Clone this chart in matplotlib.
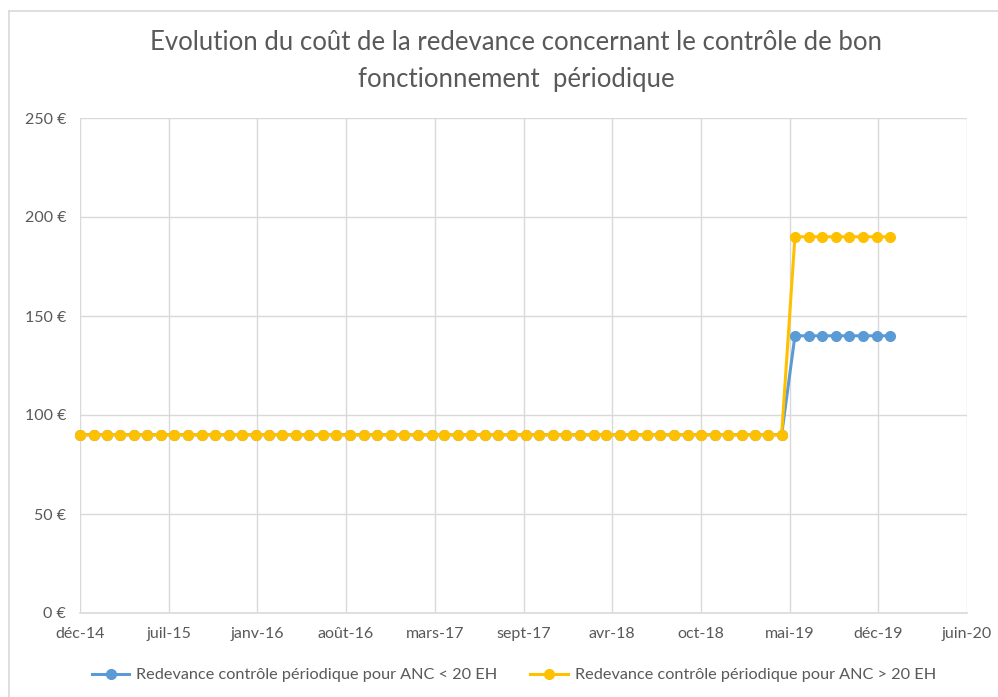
import matplotlib
matplotlib.use("Agg")
import matplotlib.pyplot as plt
import matplotlib.dates as mdates
import pandas as pd
import numpy as np
from matplotlib.lines import Line2D

# ---- data ----
months = pd.date_range("2014-12-01", "2019-12-01", freq="MS")
low_values = [90] * 53 + [140] * 8          # ANC < 20 EH
high_values = [90] * 53 + [190] * 8         # ANC > 20 EH
tick_labels = ["déc-14", "juil-15", "janv-16", "août-16", "mars-17", "sept-17",
               "avr-18", "oct-18", "mai-19", "déc-19", "juin-20"]
y_ticks = [0, 50, 100, 150, 200, 250]
series_names = ["Redevance contrôle périodique pour ANC < 20 EH",
                "Redevance contrôle périodique pour ANC > 20 EH"]
title = "Evolution du coût de la redevance concernant le contrôle de bon\nfonctionnement  périodique"

plt.rcParams['font.family'] = ['Lato', 'DejaVu Sans']
W, H = 998, 697
fig = plt.figure(figsize=(W / 100, H / 100), dpi=100)
fig.patch.set_facecolor("white")

# outer chart border (left and top visible)
fig.add_artist(Line2D([8.5 / W, 8.5 / W], [0, 1 - 11 / H], transform=fig.transFigure,
                      color="#D9D9D9", lw=1.2))
fig.add_artist(Line2D([8.5 / W, 1], [1 - 11 / H, 1 - 11 / H], transform=fig.transFigure,
                      color="#D9D9D9", lw=1.2))

ax = fig.add_axes([80 / W, (H - 613) / H, (967 - 80) / W, (613 - 118) / H])

x0 = mdates.date2num(months[0])
xs = mdates.date2num(months)
ax.plot(xs, low_values, color="#5B9BD5", lw=2.2, marker="o", ms=7,
        label=series_names[0], zorder=3, clip_on=False)
ax.plot(xs, high_values, color="#FFC000", lw=2.2, marker="o", ms=7,
        label=series_names[1], zorder=4, clip_on=False)

ticks = [x0 + 200 * i for i in range(len(tick_labels))]
ax.set_xlim(ticks[0], ticks[-1])
ax.set_xticks(ticks)
ax.set_xticklabels(tick_labels)
ax.set_ylim(0, 250)
ax.set_yticks(y_ticks)
ax.set_yticklabels([f"{v} €" for v in y_ticks])

ax.grid(True, color="#D9D9D9", lw=1)
ax.set_axisbelow(True)
for s in ["top", "right", "left"]:
    ax.spines[s].set_visible(False)
ax.spines["bottom"].set_color("#D9D9D9")
ax.spines["bottom"].set_linewidth(1.2)
ax.tick_params(length=0, colors="#595959", labelsize=11.5)
ax.tick_params(axis="x", pad=10)
ax.tick_params(axis="y", pad=10)

fig.text(516 / W, 1 - 61 / H, title, ha="center", va="center", fontsize=18.5,
         color="#595959", linespacing=1.55)

leg = fig.legend(loc="center", bbox_to_anchor=(514 / W, 1 - 675 / H), ncol=2,
                 frameon=False, fontsize=11.7, handlelength=2.3,
                 columnspacing=2.0, handletextpad=0.45)
for t in leg.get_texts():
    t.set_color("#595959")

fig.savefig("out.png", dpi=100)
